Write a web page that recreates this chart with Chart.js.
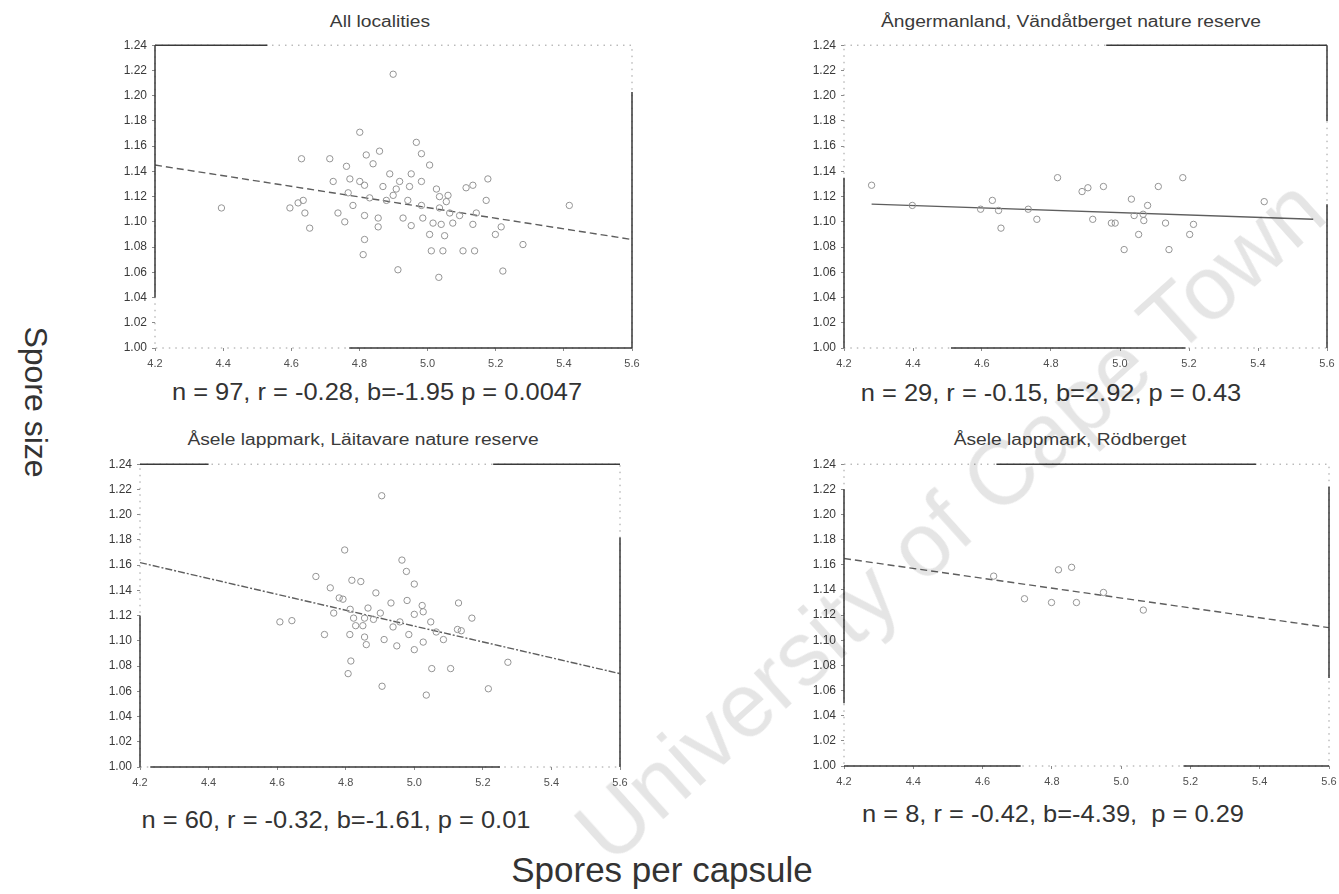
<!DOCTYPE html>
<html>
<head>
<meta charset="utf-8">
<script src="https://cdn.jsdelivr.net/npm/chart.js@4.4.1/dist/chart.umd.min.js"></script>
<style>
  html, body { margin: 0; padding: 0; background: #fff; }
  body { width: 1339px; height: 894px; position: relative; overflow: hidden;
         font-family: "Liberation Sans", Arial, sans-serif; color: #2e2e2e; }
  canvas { position: absolute; }
  .ttl  { position: absolute; font-size: 16px; white-space: pre; transform: translate(-50%, -50%) scaleX(1.2); color: #3a3a3a; }
  .stat { position: absolute; font-size: 24px; white-space: pre; transform: translate(-50%, -50%) scaleX(1.06); color: #333; }
  .axl  { position: absolute; font-size: 35px; white-space: nowrap; color: #333; transform: translate(-50%, -50%); }
  #wm   { position: absolute; left: 950px; top: 520px; font-size: 90px; white-space: nowrap;
          color: rgba(0,0,0,0.10); transform: translate(-50%, -50%) rotate(-42deg); pointer-events: none; }
</style>
</head>
<body>
<canvas id="c1"></canvas>
<canvas id="c2"></canvas>
<canvas id="c3"></canvas>
<canvas id="c4"></canvas>
<div id="labels"></div>
<div class="axl" style="left:35px;top:402px;font-size:32px;transform:translate(-50%,-50%) rotate(90deg);">Spore size</div>
<div class="axl" style="left:662px;top:870px;">Spores per capsule</div>
<div id="wm">University of Cape Town</div>

<script>
// ---- ticks ----
const xTicks = [4.2, 4.4, 4.6, 4.8, 5.0, 5.2, 5.4, 5.6];
const yTicks = [1.00, 1.02, 1.04, 1.06, 1.08, 1.10, 1.12, 1.14, 1.16, 1.18, 1.20, 1.22, 1.24];

// ---- All localities ----
const allX = [4.899, 4.801, 4.630, 4.713, 4.967, 4.982, 4.859, 4.820, 4.840, 5.006, 4.762, 4.772, 4.889, 4.952, 4.723,
  4.801, 4.815, 4.869, 4.908, 4.947, 4.982, 5.026, 5.035, 5.060, 5.113, 5.133, 5.177, 5.172, 4.767, 4.830,
  4.879, 4.635, 4.620, 4.596, 4.640, 4.737, 4.757, 4.815, 4.855, 4.855, 4.928, 4.986, 4.952, 5.016, 5.040,
  5.074, 5.035, 5.065, 5.143, 5.133, 5.006, 5.050, 5.216, 5.199, 4.654, 4.815, 5.011, 5.045, 5.104, 5.138,
  5.280, 4.811, 4.913, 5.221, 5.033, 5.416, 4.395, 4.899, 4.942, 4.982, 5.055, 4.918, 4.781, 5.094];
const allY = [1.217, 1.171, 1.150, 1.150, 1.163, 1.154, 1.156, 1.153, 1.146, 1.145, 1.144, 1.134, 1.138, 1.138, 1.132,
  1.132, 1.129, 1.128, 1.126, 1.128, 1.132, 1.126, 1.120, 1.121, 1.127, 1.129, 1.134, 1.117, 1.123, 1.119,
  1.117, 1.117, 1.115, 1.111, 1.107, 1.107, 1.100, 1.105, 1.103, 1.096, 1.103, 1.103, 1.097, 1.099, 1.098,
  1.099, 1.111, 1.107, 1.107, 1.098, 1.090, 1.089, 1.096, 1.090, 1.095, 1.086, 1.077, 1.077, 1.077, 1.077,
  1.082, 1.074, 1.062, 1.061, 1.056, 1.113, 1.111, 1.121, 1.117, 1.113, 1.116, 1.132, 1.113, 1.105];
const allFitX = [4.2, 5.6];
const allFitY = [1.145, 1.086];

// ---- Ångermanland, Vändåtberget ----
const angX = [4.280, 4.398, 4.630, 4.596, 4.648, 4.655, 4.734, 4.759, 4.819, 4.890, 4.907, 4.952, 4.921, 4.975, 4.986,
  5.033, 5.041, 5.080, 5.069, 5.054, 5.012, 5.111, 5.132, 5.142, 5.182, 5.213, 5.202, 5.418, 5.067];
const angY = [1.129, 1.113, 1.117, 1.110, 1.109, 1.095, 1.110, 1.102, 1.135, 1.124, 1.127, 1.128, 1.102, 1.099, 1.099,
  1.118, 1.105, 1.113, 1.101, 1.090, 1.078, 1.128, 1.099, 1.078, 1.135, 1.098, 1.090, 1.116, 1.106];
const angFitX = [4.28, 5.56];
const angFitY = [1.114, 1.102];

// ---- Åsele lappmark, Läitavare ----
const laiX = [4.905, 4.797, 4.964, 4.977, 4.713, 4.818, 4.844, 5.000, 4.755, 4.888, 4.781, 4.792, 4.932, 4.979, 5.023,
  5.026, 5.000, 5.129, 5.168, 5.048, 4.865, 4.765, 4.823, 4.855, 4.829, 4.850, 4.881, 4.938, 4.984, 5.064,
  5.085, 5.137, 4.608, 4.643, 4.738, 4.812, 4.855, 4.860, 4.912, 4.949, 5.000, 5.026, 4.815, 5.273, 5.051,
  5.106, 4.807, 4.906, 5.216, 5.035, 4.813, 4.901, 4.958, 5.126];
const laiY = [1.215, 1.172, 1.164, 1.155, 1.151, 1.148, 1.147, 1.145, 1.142, 1.138, 1.134, 1.133, 1.130, 1.132, 1.128,
  1.123, 1.121, 1.130, 1.118, 1.115, 1.126, 1.122, 1.118, 1.118, 1.112, 1.112, 1.117, 1.111, 1.105, 1.107,
  1.101, 1.108, 1.115, 1.116, 1.105, 1.105, 1.103, 1.097, 1.101, 1.096, 1.093, 1.099, 1.084, 1.083, 1.078,
  1.078, 1.074, 1.064, 1.062, 1.057, 1.125, 1.122, 1.115, 1.109];
const laiFitX = [4.2, 5.6];
const laiFitY = [1.162, 1.074];

// ---- Åsele lappmark, Rödberget ----
const rodX = [4.632, 4.819, 4.857, 4.721, 4.799, 4.871, 4.949, 5.064];
const rodY = [1.151, 1.156, 1.158, 1.133, 1.130, 1.130, 1.138, 1.124];
const rodFitX = [4.2, 5.6];
const rodFitY = [1.165, 1.110];

const FONT = '"Liberation Sans", Arial, sans-serif';
const Y_AXIS_W = 40, X_AXIS_H = 30, PAD_TOP = 10, PAD_RIGHT = 14;

// the scanned frames are only partly inked: solid stretches per edge (axis units), rest is faint dots
const panels = [
  { id: 'c1', title: 'All localities', stats: 'n = 97, r = -0.28, b=-1.95 p = 0.0047',
    xs: allX, ys: allY, fx: allFitX, fy: allFitY, dash: [7, 4],
    edges: { top: [[4.2, 4.53]], bottom: [[4.77, 5.6]], left: [[1.04, 1.24]], right: [[1.0, 1.203]] },
    box: { l: 155, t: 43, r: 632, b: 348 }, titleAt: [380, 22], statsAt: [377, 392] },
  { id: 'c2', title: 'Ångermanland, Vändåtberget nature reserve', stats: 'n = 29, r = -0.15, b=2.92, p = 0.43',
    xs: angX, ys: angY, fx: angFitX, fy: angFitY, dash: [],
    edges: { top: [[4.96, 5.6]], bottom: [[4.51, 5.19]], left: [[1.0, 1.135]], right: [[1.18, 1.24], [1.0, 1.114]] },
    box: { l: 844, t: 43, r: 1327, b: 348 }, titleAt: [1071, 22], statsAt: [1051, 393] },
  { id: 'c3', title: 'Åsele lappmark, Läitavare nature reserve', stats: 'n = 60, r = -0.32, b=-1.61, p = 0.01',
    xs: laiX, ys: laiY, fx: laiFitX, fy: laiFitY, dash: [7, 2, 2, 2],
    edges: { top: [[4.2, 4.4], [5.23, 5.6]], bottom: [[4.23, 5.25]], left: [[1.0, 1.12]], right: [[1.0, 1.182]] },
    box: { l: 140, t: 462, r: 620, b: 767 }, titleAt: [363, 440], statsAt: [336, 820] },
  { id: 'c4', title: 'Åsele lappmark, Rödberget', stats: 'n = 8, r = -0.42, b=-4.39,  p = 0.29',
    xs: rodX, ys: rodY, fx: rodFitX, fy: rodFitY, dash: [7, 4],
    edges: { top: [[4.64, 5.39]], bottom: [[4.2, 4.71], [5.18, 5.6]], left: [[1.05, 1.22]], right: [[1.07, 1.222]] },
    box: { l: 844, t: 462, r: 1329, b: 766 }, titleAt: [1070, 440], statsAt: [1053, 814] }
];

const framePlugin = {
  id: 'frame',
  afterDatasetsDraw(chart, args, opts) {
    const { ctx, chartArea: a, scales: { x, y } } = chart;
    const e = opts.edges;
    ctx.save();
    // faint dotted full frame
    ctx.strokeStyle = '#9c9c9c';
    ctx.lineWidth = 1;
    ctx.setLineDash([1.5, 5]);
    ctx.strokeRect(a.left, a.top, a.right - a.left, a.bottom - a.top);
    // solid inked stretches
    ctx.setLineDash([]);
    ctx.strokeStyle = '#3a3a3a';
    ctx.lineWidth = 1.5;
    ctx.beginPath();
    e.top.forEach(([u, v]) => { ctx.moveTo(x.getPixelForValue(u), a.top); ctx.lineTo(x.getPixelForValue(v), a.top); });
    e.bottom.forEach(([u, v]) => { ctx.moveTo(x.getPixelForValue(u), a.bottom); ctx.lineTo(x.getPixelForValue(v), a.bottom); });
    e.left.forEach(([u, v]) => { ctx.moveTo(a.left, y.getPixelForValue(u)); ctx.lineTo(a.left, y.getPixelForValue(v)); });
    e.right.forEach(([u, v]) => { ctx.moveTo(a.right, y.getPixelForValue(u)); ctx.lineTo(a.right, y.getPixelForValue(v)); });
    ctx.stroke();
    ctx.restore();
  }
};

function makePanel(p) {
  const cv = document.getElementById(p.id);
  const w = (p.box.r - p.box.l) + Y_AXIS_W + PAD_RIGHT;
  const h = (p.box.b - p.box.t) + PAD_TOP + X_AXIS_H;
  cv.width = w; cv.height = h;
  cv.style.width = w + 'px'; cv.style.height = h + 'px';
  cv.style.left = (p.box.l - Y_AXIS_W) + 'px';
  cv.style.top = (p.box.t - PAD_TOP) + 'px';

  const pts = p.xs.map((x, i) => ({ x: x, y: p.ys[i] }));
  const fit = p.fx.map((x, i) => ({ x: x, y: p.fy[i] }));

  new Chart(cv, {
    type: 'scatter',
    data: {
      datasets: [
        { data: pts, pointStyle: 'circle', pointRadius: 3.2, pointBorderWidth: 1,
          pointBorderColor: '#949494', pointBackgroundColor: 'rgba(0,0,0,0)' },
        { type: 'line', data: fit, borderColor: '#5e5e5e', borderWidth: 1.4, borderDash: p.dash,
          pointRadius: 0, fill: false, tension: 0 }
      ]
    },
    options: {
      responsive: false,
      animation: false,
      layout: { padding: { top: PAD_TOP, right: PAD_RIGHT, left: 0, bottom: 0 } },
      plugins: { legend: { display: false }, tooltip: { enabled: false }, frame: { edges: p.edges } },
      scales: {
        x: {
          type: 'linear', min: 4.2, max: 5.6,
          afterBuildTicks: s => { s.ticks = xTicks.map(v => ({ value: v })); },
          afterFit: s => { s.height = X_AXIS_H; },
          ticks: { color: '#505050', font: { family: FONT, size: 11 }, padding: 6,
                   maxRotation: 0, callback: v => v.toFixed(1) },
          grid: { drawOnChartArea: false, drawTicks: true, tickLength: 3, color: '#8a8a8a' },
          border: { display: false }
        },
        y: {
          type: 'linear', min: 1.00, max: 1.24,
          afterBuildTicks: s => { s.ticks = yTicks.map(v => ({ value: v })); },
          afterFit: s => { s.width = Y_AXIS_W; },
          ticks: { color: '#3a3a3a', font: { family: FONT, size: 12 }, padding: 5,
                   callback: v => v.toFixed(2) },
          grid: { drawOnChartArea: false, drawTicks: true, tickLength: 3, color: '#8a8a8a' },
          border: { display: false }
        }
      }
    },
    plugins: [framePlugin]
  });

  const holder = document.getElementById('labels');
  const t = document.createElement('div');
  t.className = 'ttl';
  t.textContent = p.title;
  t.style.left = p.titleAt[0] + 'px';
  t.style.top = p.titleAt[1] + 'px';
  holder.appendChild(t);
  const s = document.createElement('div');
  s.className = 'stat';
  s.textContent = p.stats;
  s.style.left = p.statsAt[0] + 'px';
  s.style.top = p.statsAt[1] + 'px';
  holder.appendChild(s);
}

panels.forEach(makePanel);
</script>
</body>
</html>
